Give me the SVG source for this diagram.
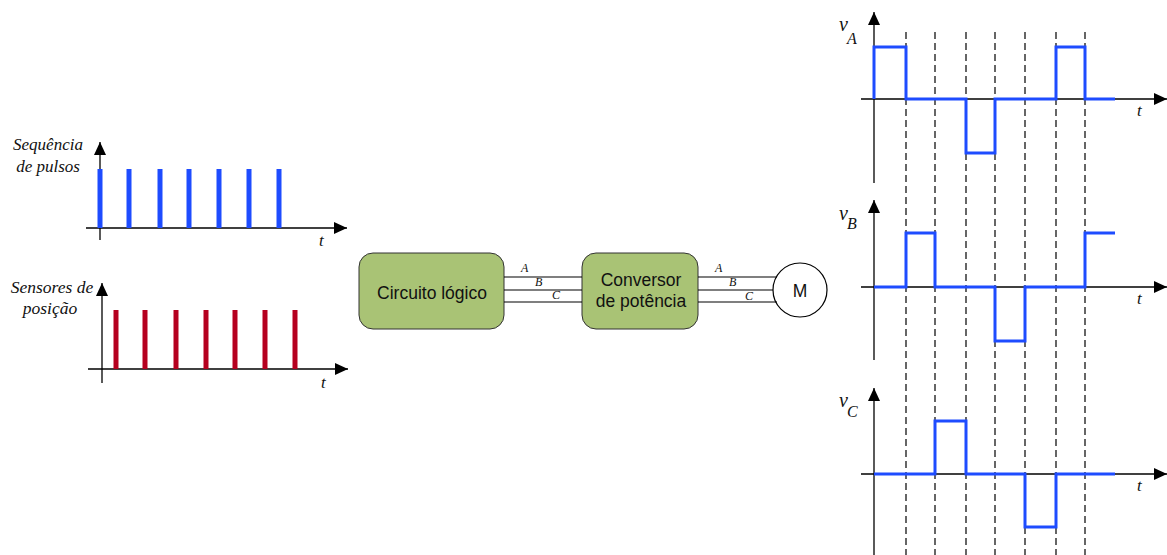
<svg xmlns="http://www.w3.org/2000/svg" width="1167" height="555" viewBox="0 0 1167 555">
  <style>
    .axis { stroke: #000; stroke-width: 1.3; fill: none; }
    .grid { stroke: #000; stroke-width: 1.2; stroke-dasharray: 7 4; fill: none; }
    .wave { stroke: #1e4cff; stroke-width: 3; fill: none; stroke-linejoin: miter; }
    .pulse-b { fill: #1e4cff; }
    .pulse-r { fill: #b5001f; }
    .lbl { font-family: "Liberation Serif", "Times New Roman", serif; font-style: italic; fill: #111; }
    .box { fill: #a9c375; stroke: #333; stroke-width: 1; }
    .boxtxt { font-family: "Liberation Sans", Arial, sans-serif; font-size: 17.5px; fill: #111; text-anchor: middle; }
    .bus { stroke: #000; stroke-width: 1.2; fill: none; }
    .phase { font-family: "Liberation Serif", "Times New Roman", serif; font-style: italic; font-size: 12px; fill: #111; }
  </style>
  <defs>
    <marker id="arrow" markerUnits="userSpaceOnUse" markerWidth="14" markerHeight="12" refX="13" refY="6" orient="auto">
      <path d="M0,0 L13,6 L0,12 Z" fill="#000"/>
    </marker>
  </defs>

  <!-- pulse train chart -->
  <g id="chart-pulses">
    <line class="axis" x1="100" y1="240" x2="100" y2="142" marker-end="url(#arrow)"/>
    <line class="axis" x1="86" y1="228" x2="347" y2="228" marker-end="url(#arrow)"/>
    <rect class="pulse-b" x="97.5" y="169" width="5" height="59"/>
    <rect class="pulse-b" x="126.5" y="169" width="5" height="59"/>
    <rect class="pulse-b" x="157.5" y="169" width="5" height="59"/>
    <rect class="pulse-b" x="186.5" y="169" width="5" height="59"/>
    <rect class="pulse-b" x="216.5" y="169" width="5" height="59"/>
    <rect class="pulse-b" x="246.5" y="169" width="5" height="59"/>
    <rect class="pulse-b" x="276.5" y="169" width="5" height="59"/>
    <text class="lbl" x="48" y="150" font-size="17" text-anchor="middle">Sequência</text>
    <text class="lbl" x="48" y="172" font-size="17" text-anchor="middle">de pulsos</text>
    <text class="lbl" x="319" y="246" font-size="17">t</text>
  </g>

  <!-- position sensor chart -->
  <g id="chart-sensors">
    <line class="axis" x1="102" y1="383" x2="102" y2="283" marker-end="url(#arrow)"/>
    <line class="axis" x1="88" y1="369" x2="348" y2="369" marker-end="url(#arrow)"/>
    <rect class="pulse-r" x="113.5" y="310" width="5" height="59"/>
    <rect class="pulse-r" x="142.5" y="310" width="5" height="59"/>
    <rect class="pulse-r" x="173.5" y="310" width="5" height="59"/>
    <rect class="pulse-r" x="203.5" y="310" width="5" height="59"/>
    <rect class="pulse-r" x="232.5" y="310" width="5" height="59"/>
    <rect class="pulse-r" x="262.5" y="310" width="5" height="59"/>
    <rect class="pulse-r" x="292.5" y="310" width="5" height="59"/>
    <text class="lbl" x="52" y="293" font-size="17.5" text-anchor="middle">Sensores de</text>
    <text class="lbl" x="50" y="314" font-size="17.5" text-anchor="middle">posição</text>
    <text class="lbl" x="321" y="388" font-size="17">t</text>
  </g>

  <!-- blocks -->
  <g id="logic">
    <rect class="box" x="359" y="253" width="145" height="76" rx="14"/>
    <text class="boxtxt" x="432" y="299">Circuito lógico</text>
  </g>
  <g id="converter">
    <rect class="box" x="582" y="253" width="116" height="76" rx="14"/>
    <text class="boxtxt" x="641" y="286">Conversor</text>
    <text class="boxtxt" x="641" y="307">de potência</text>
  </g>
  <g id="motor">
    <circle cx="800" cy="290" r="27" fill="#fff" stroke="#000" stroke-width="1.2"/>
    <text class="boxtxt" x="800" y="297">M</text>
  </g>

  <!-- three-phase buses -->
  <g id="connectors">
    <line class="bus" x1="504" y1="277" x2="582" y2="277"/>
    <line class="bus" x1="504" y1="290" x2="582" y2="290"/>
    <line class="bus" x1="504" y1="302" x2="582" y2="302"/>
    <line class="bus" x1="698" y1="277" x2="777" y2="277"/>
    <line class="bus" x1="698" y1="290" x2="773" y2="290"/>
    <line class="bus" x1="698" y1="302" x2="777" y2="302"/>
    <text class="phase" x="521" y="272">A</text>
    <text class="phase" x="535" y="286">B</text>
    <text class="phase" x="552" y="299">C</text>
    <text class="phase" x="715" y="272">A</text>
    <text class="phase" x="729" y="286">B</text>
    <text class="phase" x="745" y="300">C</text>
  </g>

  <!-- commutation instants -->
  <g id="grid">
    <line class="grid" x1="906" y1="32" x2="906" y2="555"/>
    <line class="grid" x1="935" y1="32" x2="935" y2="555"/>
    <line class="grid" x1="966" y1="32" x2="966" y2="555"/>
    <line class="grid" x1="995" y1="32" x2="995" y2="555"/>
    <line class="grid" x1="1025" y1="32" x2="1025" y2="555"/>
    <line class="grid" x1="1056" y1="32" x2="1056" y2="555"/>
    <line class="grid" x1="1085" y1="32" x2="1085" y2="555"/>
  </g>

  <!-- phase A voltage -->
  <g id="chart-va">
    <line class="axis" x1="874" y1="183" x2="874" y2="12" marker-end="url(#arrow)"/>
    <line class="axis" x1="861" y1="99" x2="1167" y2="99" marker-end="url(#arrow)"/>
    <polyline class="wave" points="874,99 874,47 906,47 906,99 966,99 966,153 995,153 995,99 1056,99 1056,47 1085,47 1085,99 1115,99"/>
    <text class="lbl" x="839" y="31" font-size="20">v</text>
    <text class="lbl" x="847" y="44" font-size="16">A</text>
    <text class="lbl" x="1137" y="116" font-size="17">t</text>
  </g>

  <!-- phase B voltage -->
  <g id="chart-vb">
    <line class="axis" x1="874" y1="360" x2="874" y2="200" marker-end="url(#arrow)"/>
    <line class="axis" x1="861" y1="287" x2="1167" y2="287" marker-end="url(#arrow)"/>
    <polyline class="wave" points="874,287 906,287 906,233 935,233 935,287 995,287 995,341 1025,341 1025,287 1085,287 1085,233 1115,233"/>
    <text class="lbl" x="839" y="220" font-size="20">v</text>
    <text class="lbl" x="847" y="229" font-size="16">B</text>
    <text class="lbl" x="1137" y="304" font-size="17">t</text>
  </g>

  <!-- phase C voltage -->
  <g id="chart-vc">
    <line class="axis" x1="874" y1="555" x2="874" y2="388" marker-end="url(#arrow)"/>
    <line class="axis" x1="861" y1="474" x2="1167" y2="474" marker-end="url(#arrow)"/>
    <polyline class="wave" points="874,474 935,474 935,421 966,421 966,474 1025,474 1025,527 1056,527 1056,474 1115,474"/>
    <text class="lbl" x="839" y="407" font-size="20">v</text>
    <text class="lbl" x="847" y="417" font-size="16">C</text>
    <text class="lbl" x="1137" y="491" font-size="17">t</text>
  </g>
</svg>
